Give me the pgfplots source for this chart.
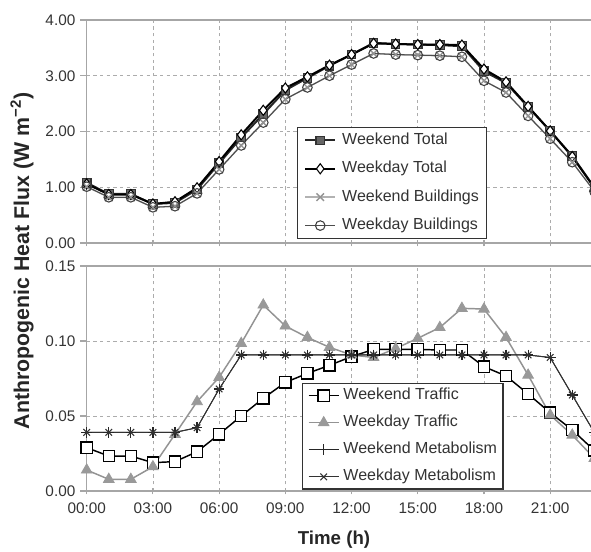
\documentclass[border=0pt]{standalone}
\usepackage{fontspec}
\setmainfont{Liberation Sans}
\usepackage{pgfplots}
\usepackage{pgfplotstable}
\pgfplotsset{compat=1.18}

\pgfplotstableread{
h WeTot WdTot WeBld WdBld WeTr WdTr WeMet WdMet
0  1.08 1.06 1.01 1.01 0.0289 0.0140 0.0391 0.0391
1  0.88 0.87 0.82 0.82 0.0233 0.0078 0.0391 0.0391
2  0.88 0.87 0.82 0.82 0.0233 0.0078 0.0391 0.0391
3  0.70 0.70 0.64 0.64 0.0189 0.0162 0.0391 0.0391
4  0.72 0.74 0.66 0.66 0.0196 0.0378 0.0391 0.0391
5  0.96 0.99 0.89 0.89 0.0262 0.0596 0.0422 0.0422
6  1.43 1.46 1.32 1.32 0.0378 0.0758 0.0680 0.0680
7  1.89 1.94 1.75 1.75 0.0500 0.0984 0.0907 0.0907
8  2.31 2.38 2.16 2.16 0.0618 0.1240 0.0907 0.0907
9  2.74 2.78 2.58 2.58 0.0724 0.1100 0.0907 0.0907
10 2.96 2.98 2.79 2.79 0.0784 0.1024 0.0907 0.0907
11 3.18 3.19 3.00 3.00 0.0838 0.0958 0.0907 0.0907
12 3.38 3.38 3.20 3.20 0.0896 0.0907 0.0907 0.0907
13 3.59 3.58 3.40 3.40 0.0944 0.0890 0.0907 0.0907
14 3.57 3.57 3.38 3.38 0.0944 0.0950 0.0907 0.0907
15 3.56 3.56 3.37 3.37 0.0944 0.1018 0.0907 0.0907
16 3.55 3.56 3.36 3.36 0.0940 0.1090 0.0907 0.0907
17 3.53 3.55 3.34 3.34 0.0940 0.1218 0.0907 0.0907
18 3.08 3.12 2.91 2.91 0.0829 0.1213 0.0907 0.0907
19 2.87 2.89 2.70 2.70 0.0767 0.1024 0.0907 0.0907
20 2.44 2.45 2.28 2.28 0.0647 0.0773 0.0907 0.0907
21 2.01 2.01 1.87 1.87 0.0522 0.0507 0.0890 0.0890
22 1.56 1.55 1.45 1.45 0.0407 0.0373 0.0640 0.0640
23 1.00 0.99 0.93 0.93 0.0270 0.0218 0.0390 0.0390
}\data

\pgfplotsset{
  common/.style={
    scale only axis, width=397.26pt, xmin=0, xmax=24, xtick={0,3,...,21},
    grid=major,
    major grid style={gray!65, dash pattern=on 2.5pt off 2.5pt, line width=0.6pt},
    axis line style={gray!70, line width=1pt},
    tick style={gray!70, line width=0.8pt},
    ytick align=outside, xtick align=center, major tick length=5pt,
    ytick pos=left, xtick pos=bottom,
    tick label style={font=\fontsize{11.5}{13}\selectfont, text=black!80},
    xticklabel style={yshift=-2.5pt},
    /pgf/number format/assume math mode=true,
    yticklabel style={/pgf/number format/fixed, /pgf/number format/fixed zerofill, /pgf/number format/precision=2},
    scaled y ticks=false,
    clip=false,
    legend cell align=left,
    legend image code/.code={\draw[mark repeat=2,mark phase=2,##1] plot coordinates {(0pt,0pt) (11.25pt,0pt) (22.5pt,0pt)};},
  }
}

\begin{document}
\begin{tikzpicture}
\useasboundingbox (0,0) rectangle (443.25pt,413.25pt);

\begin{axis}[common,
  at={(65.03pt,231pt)}, anchor=south west, height=167.25pt,
  ymin=0, ymax=4, ytick={0,1,2,3,4}, xticklabels={},
  legend style={at={(axis cs:9.53,2.08)}, anchor=north west, draw=black!80, line width=0.8pt,
    fill=white, font=\fontsize{12}{14}\selectfont, text=black!80,
    inner xsep=5pt, inner ysep=3.5pt, row sep=9.1pt,
    nodes={inner sep=0.5pt, text height=8.6pt, text depth=2.6pt},
    /tikz/every odd column/.append style={column sep=4pt}},
]
\addplot[black!85, line width=1.5pt, mark=square*, mark size=3.2pt, mark options={fill=black!60, draw=black!80, line width=0.8pt}]
  table[x=h, y=WeTot] {\data};
\addlegendentry{Weekend Total}
\addplot[black, line width=1.5pt, mark=diamond*, mark size=3.8pt, mark options={fill=white, draw=black, line width=0.8pt}]
  table[x=h, y=WdTot] {\data};
\addlegendentry{Weekday Total}
\addplot[gray!60, line width=1.1pt, mark=x, mark size=4pt, mark options={draw=gray!85, line width=1pt}]
  table[x=h, y=WeBld] {\data};
\addlegendentry{Weekend Buildings}
\addplot[black!70, line width=0.8pt, mark=o, mark size=3.6pt, mark options={fill=none, draw=black!75, line width=0.8pt}]
  table[x=h, y=WdBld] {\data};
\addlegendentry{Weekday Buildings}
\end{axis}

\begin{axis}[common,
  at={(65.03pt,45pt)}, anchor=south west, height=168.75pt,
  ymin=0, ymax=0.15, ytick={0,0.05,0.1,0.15},
  xticklabels={00:00,03:00,06:00,09:00,12:00,15:00,18:00,21:00},
  legend style={at={(axis cs:9.76,0.072)}, anchor=north west, draw=black!80, line width=0.8pt,
    fill=white, font=\fontsize{12}{14}\selectfont, text=black!80,
    inner xsep=4pt, inner ysep=3pt, row sep=8.1pt,
    nodes={inner sep=0.5pt, text height=8.6pt, text depth=2.6pt},
    /tikz/every odd column/.append style={column sep=2.5pt}},
]
\addplot[black, line width=1.1pt, mark=square*, mark size=4.2pt, mark options={fill=white, draw=black, line width=1pt}]
  table[x=h, y=WeTr] {\data};
\addlegendentry{Weekend Traffic}
\addplot[gray!85, line width=1.1pt, mark=triangle*, mark size=4.6pt, mark options={fill=gray!80, draw=gray!80, line width=0.6pt}]
  table[x=h, y=WdTr] {\data};
\addlegendentry{Weekday Traffic}
\addplot[black!85, line width=0.7pt, mark=+, mark size=4pt, mark options={line width=0.9pt}]
  table[x=h, y=WeMet] {\data};
\addlegendentry{Weekend Metabolism}
\addplot[black!80, line width=0.7pt, mark=x, mark size=3.5pt, mark options={line width=0.8pt}]
  table[x=h, y=WdMet] {\data};
\addlegendentry{Weekday Metabolism}
\end{axis}

\node[rotate=90, font=\fontsize{16}{18}\selectfont\bfseries, text=black!85] at (16.5pt,217.5pt) {Anthropogenic Heat Flux (W m\textsuperscript{−2})};
\node[font=\fontsize{14}{16}\selectfont\bfseries, text=black!85] at (250.5pt,8.25pt) {Time (h)};
\end{tikzpicture}
\end{document}
